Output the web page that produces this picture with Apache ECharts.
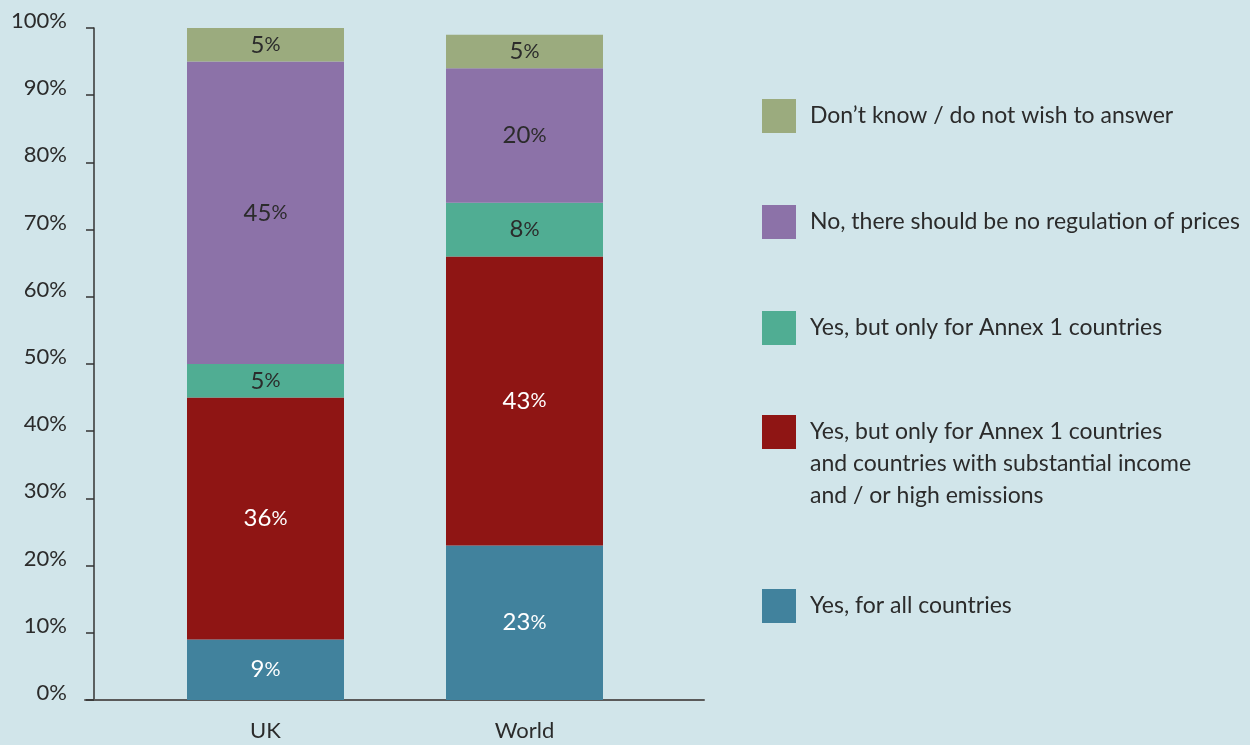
<!DOCTYPE html>
<html>
<head>
<meta charset="utf-8">
<script src="https://cdn.jsdelivr.net/npm/echarts@6/dist/echarts.min.js"></script>
<style>
  html, body { margin: 0; padding: 0; background: #d1e5ea; }
  #chart { width: 1250px; height: 745px; }
</style>
</head>
<body>
<div id="chart"></div>
<script>
// Survey answers by respondent group (percent of respondents)
const categories = ['UK', 'World'];

const seriesNames = [
  'Yes, for all countries',
  'Yes, but only for Annex 1 countries\nand countries with substantial income\nand / or high emissions',
  'Yes, but only for Annex 1 countries',
  'No, there should be no regulation of prices',
  'Don\u2019t know / do not wish to answer'
];

const allCountries   = [9, 23];
const annexAndIncome = [36, 43];
const annexOnly      = [5, 8];
const noRegulation   = [45, 20];
const dontKnow       = [5, 5];

const yTicks = { min: 0, max: 100, interval: 10 };

const seriesValues = [allCountries, annexAndIncome, annexOnly, noRegulation, dontKnow];
const colors = ['#41829d', '#8f1514', '#50ad93', '#8c72a8', '#9bab7e'];
const labelColors = ['#ffffff', '#ffffff', '#2b2b2b', '#2b2b2b', '#2b2b2b'];
const legendTops = [589, 352, 311, 205, 99];

const FONT = 'Lato';
const TEXT = '#2b2b2b';

const chart = echarts.init(document.getElementById('chart'), null, { renderer: 'canvas' });

const series = seriesValues.map((vals, i) => ({
  name: seriesNames[i],
  type: 'bar',
  stack: 'total',
  xAxisIndex: 1,
  yAxisIndex: 1,
  barWidth: 157,
  data: vals,
  itemStyle: { color: colors[i] },
  label: {
    show: true,
    position: 'inside',
    formatter: p => '{n|' + p.value + '}{p|%}',
    rich: {
      n: { fontFamily: FONT, fontSize: 24, color: labelColors[i] },
      p: { fontFamily: FONT, fontSize: 20, color: labelColors[i] }
    }
  },
  emphasis: { disabled: true }
}));

// one legend per series so each entry can sit at its own height;
// the wrapped entry gets two leading blank lines so its first line
// lines up with the swatch
const legends = seriesNames.map((name, i) => {
  const multi = name.indexOf('\n') >= 0;
  return {
    left: 762,
    top: legendTops[i],
    orient: 'vertical',
    padding: 0,
    itemWidth: 34,
    itemHeight: 34,
    icon: 'rect',
    selectedMode: false,
    data: [name],
    formatter: n => (multi ? '\n\n' + n : n),
    textStyle: {
      fontFamily: FONT,
      fontSize: 23,
      color: TEXT,
      lineHeight: 32,
      padding: [0, 0, 0, 9]
    }
  };
});

chart.setOption({
  backgroundColor: '#d1e5ea',
  animation: false,
  textStyle: { fontFamily: FONT },
  legend: legends,
  grid: [
    // axis frame
    { left: 85, top: 28, width: 619, height: 672 },
    // bar area
    { left: 136, top: 28, width: 518, height: 672 }
  ],
  xAxis: [
    {
      gridIndex: 0,
      type: 'value',
      min: 0,
      max: 1,
      axisLine: { show: true, lineStyle: { color: '#5a5a5a', width: 2 } },
      axisTick: { show: false },
      axisLabel: { show: false },
      splitLine: { show: false }
    },
    {
      gridIndex: 1,
      type: 'category',
      data: categories,
      axisLine: { show: false },
      axisTick: { show: false },
      axisLabel: { fontFamily: FONT, fontSize: 22, color: TEXT, margin: 20 }
    }
  ],
  yAxis: [
    {
      gridIndex: 0,
      type: 'value',
      min: yTicks.min,
      max: yTicks.max,
      interval: yTicks.interval,
      offset: -9,
      axisLine: { show: true, lineStyle: { color: '#333333', width: 1.5 } },
      axisTick: { show: true, length: 8, lineStyle: { color: '#333333', width: 1.5 } },
      axisLabel: {
        fontFamily: FONT,
        fontSize: 22,
        color: TEXT,
        margin: 27,
        verticalAlign: 'bottom',
        lineHeight: 14,
        formatter: '{value}%'
      },
      splitLine: { show: false }
    },
    {
      gridIndex: 1,
      type: 'value',
      min: yTicks.min,
      max: yTicks.max,
      show: false,
      splitLine: { show: false }
    }
  ],
  series: series
});
</script>
</body>
</html>
